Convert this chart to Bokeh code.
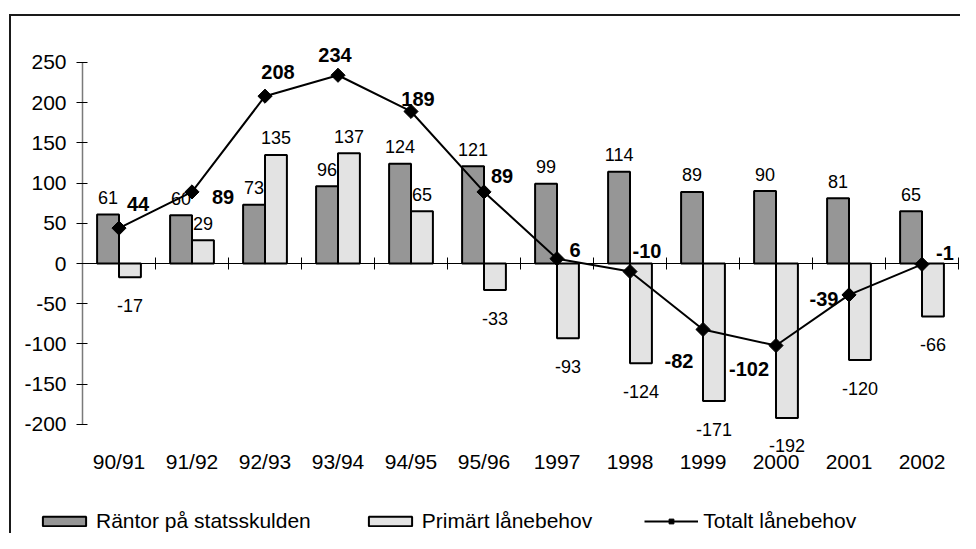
from bokeh.plotting import figure
from bokeh.models import (ColumnDataSource, Range1d, FixedTicker, LinearAxis,
                          Legend, LegendItem, InlineStyleSheet)
from bokeh.transform import dodge
from bokeh.core.properties import value
from bokeh.embed import file_html
from bokeh.resources import INLINE

# ---------------- data ----------------
categories = ["90/91", "91/92", "92/93", "93/94", "94/95", "95/96",
              "1997", "1998", "1999", "2000", "2001", "2002"]
rantor = [61, 60, 73, 96, 124, 121, 99, 114, 89, 90, 81, 65]
primart = [-17, 29, 135, 137, 65, -33, -93, -124, -171, -192, -120, -66]
totalt = [44, 89, 208, 234, 189, 89, 6, -10, -82, -102, -39, -1]
y_ticks = [-200, -150, -100, -50, 0, 50, 100, 150, 200, 250]
series_names = ["Räntor på statsskulden", "Primärt lånebehov", "Totalt lånebehov"]

# ---------------- label placement (screen px) ----------------
total_dx = [19, 31, 13, -3, 7, 18, 18, 17, -24, -27, -25, 23]
total_dy = [-26, 3, -26, -22, -14, -18, -11, -23, 30, 21, 2, -13]

FONT = "Liberation Sans"
DARK = "#969696"
LIGHT = "#e3e3e3"

n = len(categories)
centers = [i + 0.5 for i in range(n)]          # category slots on a numeric scale
boundaries = list(range(n + 1))

src = ColumnDataSource(dict(
    x=centers,
    rantor=rantor,
    primart=primart,
    totalt=totalt,
    rantor_txt=[str(v) for v in rantor],
    primart_txt=[str(v) for v in primart],
    totalt_txt=[str(v) for v in totalt],
    rantor_dy=[-17 if v >= 0 else 28 for v in rantor],
    primart_dy=[-17 if v >= 0 else 28 for v in primart],
    totalt_dx=total_dx,
    totalt_dy=[d + 2 for d in total_dy],
))

# ---------------- geometry (px) ----------------
W, H = 960, 533
axis_x_px = 82          # where the value axis sits
cat_px = 73.0           # width of one category slot
zero_y_px = 263         # where the zero line sits
px_per_unit = 362 / 450.0
x_start = -axis_x_px / cat_px
x_end = x_start + W / cat_px
y_top = zero_y_px / px_per_unit
y_bot = -(H - zero_y_px) / px_per_unit
cat_axis_y = -(445 - zero_y_px) / px_per_unit

border_css = InlineStyleSheet(css="""
:host::after {
  content: ""; position: absolute; left: 9px; top: 14px; right: 0px; bottom: 0px;
  border-left: 2px solid #1a1a1a; border-top: 2px solid #1a1a1a;
  pointer-events: none; box-sizing: border-box;
}
""")

p = figure(width=W, height=H, x_range=Range1d(x_start, x_end),
           y_range=Range1d(y_bot, y_top), output_backend="svg", toolbar_location=None,
           min_border_left=0, min_border_right=0, min_border_top=0,
           min_border_bottom=0, title=None, x_axis_type=None, y_axis_type=None,
           stylesheets=[border_css])
p.outline_line_color = None
p.grid.visible = False
p.background_fill_color = "white"
p.border_fill_color = "white"

# bars
r_dark = p.vbar(x=dodge("x", -0.15), top="rantor", bottom=0, width=0.3,
                source=src, fill_color=DARK, line_color="black", line_width=2)
r_light = p.vbar(x=dodge("x", 0.15), top="primart", bottom=0, width=0.3,
                 source=src, fill_color=LIGHT, line_color="black", line_width=2)

# value axis (left), fixed at the first category boundary
ya = LinearAxis(fixed_location=0, ticker=FixedTicker(ticks=y_ticks),
                bounds=(min(y_ticks), max(y_ticks)),
                major_label_overrides={t: str(t) for t in y_ticks})
ya.axis_line_color = "#7a7a7a"
ya.axis_line_width = 1.5
ya.major_tick_line_color = "black"
ya.major_tick_in = 5
ya.major_tick_out = 6
ya.minor_tick_line_color = None
ya.major_label_standoff = 10
ya.major_label_text_font = FONT
ya.major_label_text_font_size = "21px"
ya.major_label_text_color = "black"
p.add_layout(ya, "left")

# zero line with ticks at category boundaries
za = LinearAxis(fixed_location=0, ticker=FixedTicker(ticks=boundaries),
                bounds=(0, n))
za.axis_line_color = "black"
za.axis_line_width = 1
za.major_tick_line_color = "black"
za.major_tick_in = 6
za.major_tick_out = 6
za.minor_tick_line_color = None
za.major_label_text_font_size = "0px"
za.major_label_text_alpha = 0
p.add_layout(za, "below")

# category labels axis near the bottom
xa = LinearAxis(fixed_location=cat_axis_y, ticker=FixedTicker(ticks=centers),
                major_label_overrides={c: lab for c, lab in zip(centers, categories)})
xa.axis_line_color = None
xa.major_tick_line_color = None
xa.minor_tick_line_color = None
xa.major_tick_out = 0
xa.major_tick_in = 0
xa.major_label_standoff = 4
xa.major_label_text_font = FONT
xa.major_label_text_font_size = "21px"
xa.major_label_text_color = "black"
p.add_layout(xa, "below")

# total line
r_line = p.line(x="x", y="totalt", source=src, line_color="black", line_width=2)
r_mark = p.scatter(x="x", y="totalt", source=src, marker="square", angle=0.785398,
                   size=10, fill_color="black", line_color="black")

# labels
p.text(x=dodge("x", -0.15), y="rantor", text="rantor_txt", source=src,
       y_offset="rantor_dy", text_align="center", text_baseline="middle",
       text_font=value(FONT), text_font_size="18px", text_color="black")
p.text(x=dodge("x", 0.15), y="primart", text="primart_txt", source=src,
       y_offset="primart_dy", text_align="center", text_baseline="middle",
       text_font=value(FONT), text_font_size="18px", text_color="black")
p.text(x="x", y="totalt", text="totalt_txt", source=src,
       x_offset="totalt_dx", y_offset="totalt_dy", text_align="center",
       text_baseline="middle", text_font=value(FONT), text_font_size="20px",
       text_font_style="bold", text_color="black")

# legend at the bottom
legend = Legend(items=[
    LegendItem(label=series_names[0], renderers=[r_dark]),
    LegendItem(label=series_names[1], renderers=[r_light]),
    LegendItem(label=series_names[2], renderers=[r_line, r_mark]),
], location=(37, 0), orientation="horizontal", glyph_width=54, glyph_height=12,
    label_standoff=5, spacing=52, padding=0, margin=0, border_line_color=None,
    background_fill_alpha=0, label_text_font=FONT, label_text_font_size="21px",
    label_text_color="black")
p.add_layout(legend)

open("out.html", "w").write(file_html(p, INLINE))
